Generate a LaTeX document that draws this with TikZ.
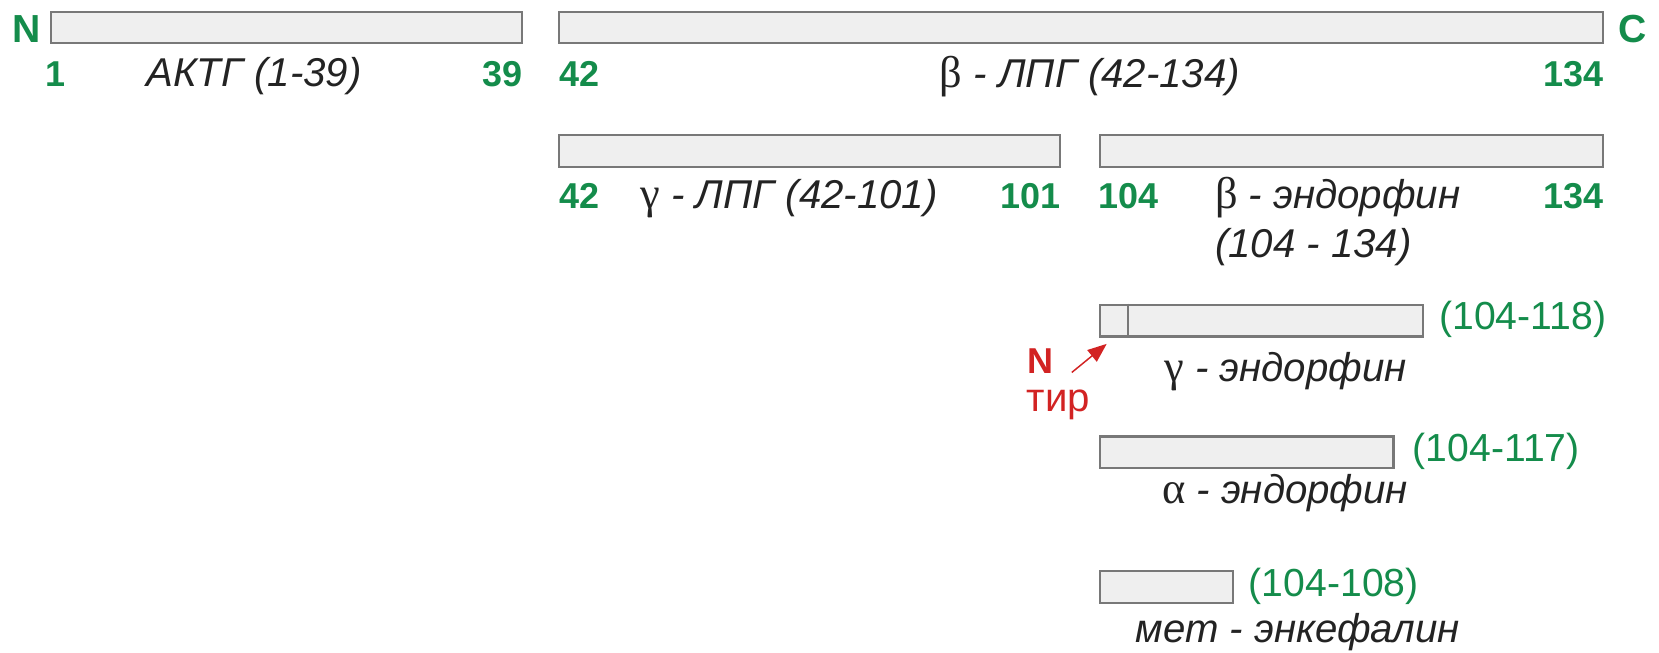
\documentclass[tikz,border=0pt]{standalone}
\usepackage{fontspec}
\setmainfont{Liberation Sans}
\newfontfamily\grkfam{Liberation Serif}
\newcommand\grkup[1]{{\grkfam\upshape\fontsize{21}{21}\selectfont #1}}
\usetikzlibrary{arrows.meta}
\definecolor{grn}{RGB}{20,140,75}
\definecolor{rd}{RGB}{210,35,35}
\definecolor{barfill}{RGB}{239,239,239}
\definecolor{barline}{RGB}{120,120,120}
\definecolor{txt}{RGB}{35,35,35}
\begin{document}
\begin{tikzpicture}[x=0.5pt,y=-0.5pt,
  bar/.style={draw=barline, fill=barfill, line width=1pt, inner sep=0pt, minimum height=15pt},
  lbl/.style={inner sep=0pt, anchor=base west},
  num/.style={lbl, text=grn, font=\fontsize{17}{17}\selectfont\bfseries},
  numr/.style={num, anchor=base east},
  term/.style={lbl, text=grn, font=\fontsize{18.5}{18.5}\selectfont\bfseries},
  pname/.style={lbl, text=txt, font=\fontsize{19}{19}\selectfont\itshape},
  rng/.style={lbl, text=grn, font=\fontsize{18.5}{18.5}\selectfont},
  redlbl/.style={lbl, text=rd, font=\fontsize{18}{18}\selectfont\bfseries},
  redarrow/.style={draw=rd, line width=0.7pt, -{Triangle[length=9pt,width=7pt]}}
]
\useasboundingbox (0,0) rectangle (1568,617);

% bars
\node[bar, minimum width=222.5pt] (b1) at (270.5,26) {};
\node[bar, minimum width=493.5pt] (b2) at (1021.5,26) {};
\node[bar, minimum width=237pt] (b3) at (765,142.5) {};
\node[bar, minimum width=237.5pt] (b4) at (1277.5,142.5) {};
\node[bar, minimum width=152.5pt] (b5) at (1192.5,303) {};
\node[bar, minimum width=138.5pt] (b6) at (1178.5,427.5) {};
\node[bar, minimum width=62.5pt] (b7) at (1102.5,555) {};
\draw[draw=barline, line width=1pt] ([xshift=13.5pt]b5.north west) -- ([xshift=13.5pt]b5.south west);

% termini
\node[term] (nterm) at (11,40) {N};
\node[term] (cterm) at (1529,40) {C};

% row 1
\node[num] (n1) at (43,82) {1};
\node[pname] (actg) at (138,82) {АКТГ (1-39)};
\node[numr] (n39) at (494,82) {39};
\node[num] (n42a) at (528,82) {42};
\node[pname] (blpg) at (888,83) {\grkup{β} - ЛПГ (42-134)};
\node[numr] (n134a) at (1516,82) {134};

% row 2
\node[num] (n42b) at (528,197) {42};
\node[pname] (glpg) at (605,197) {\grkup{γ} - ЛПГ (42-101)};
\node[numr] (n101) at (1003,197) {101};
\node[num] (n104) at (1038,197) {104};
\node[pname] (bend) at (1148,197) {\grkup{β} - эндорфин};
\node[pname] (bendr) at (1148,243) {(104 - 134)};
\node[numr] (n134b) at (1516,197) {134};

% row 3
\node[rng] (r118) at (1360,311) {(104-118)};
\node[pname] (gend) at (1100,361) {\grkup{γ} - эндорфин};
\node[redlbl, font=\fontsize{17}{17}\selectfont\bfseries] (rN) at (971,353) {N};
\node[redlbl, font=\fontsize{19}{19}\selectfont] (tyr) at (970,389) {тир};
\coordinate (arrtail) at (1013,352);
\coordinate (arrtip) at (1046,325);
\draw[redarrow] (arrtail) -- (arrtip);

% row 4
\node[rng] (r117) at (1335,436) {(104-117)};
\node[pname] (aend) at (1098,476) {\grkup{α} - эндорфин};

% row 5
\node[rng] (r108) at (1180,564) {(104-108)};
\node[pname] (menk) at (1073,607) {мет - энкефалин};
\end{tikzpicture}
\end{document}
